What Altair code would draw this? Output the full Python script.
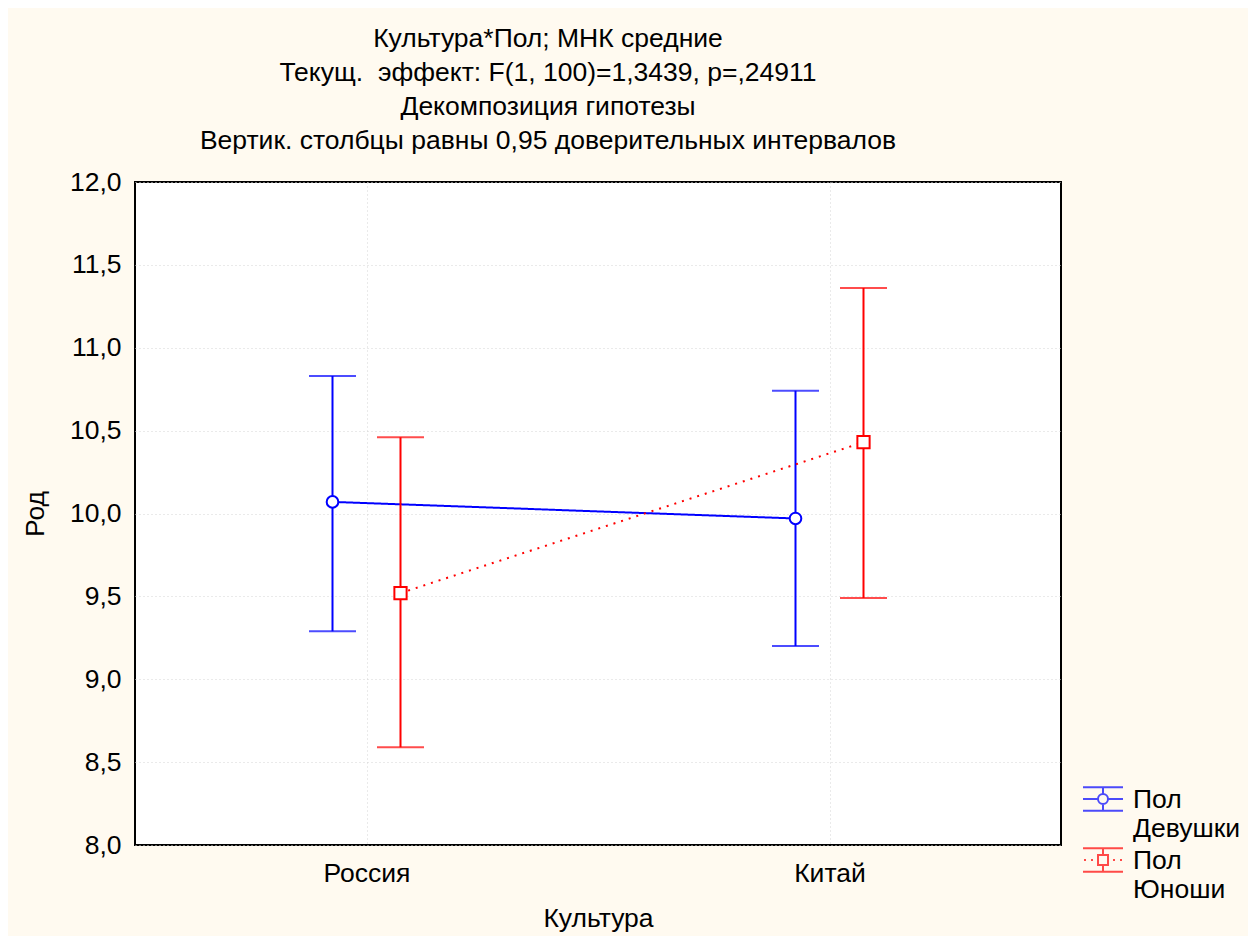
import altair as alt
import pandas as pd

categories = ["Россия", "Китай"]
groups = ["Девушки", "Юноши"]
girls_mean = [10.07, 9.97]
girls_low = [9.29, 9.20]
girls_high = [10.83, 10.74]
boys_mean = [9.52, 10.43]
boys_low = [8.59, 9.49]
boys_high = [10.46, 11.36]
y_ticks = [8.0, 8.5, 9.0, 9.5, 10.0, 10.5, 11.0, 11.5, 12.0]
title_lines = [
    "Культура*Пол; МНК средние",
    "Текущ.\u00a0 эффект: F(1, 100)=1,3439, p=,24911",
    "Декомпозиция гипотезы",
    "Вертик. столбцы равны 0,95 доверительных интервалов",
]

rows = []
for g, means, lows, highs in [(groups[0], girls_mean, girls_low, girls_high),
                              (groups[1], boys_mean, boys_low, boys_high)]:
    for c, m, lo, hi in zip(categories, means, lows, highs):
        rows.append({"culture": c, "group": g, "mean": m, "low": lo, "high": hi})
df = pd.DataFrame(rows)

FONT = "Liberation Sans"
FS = 26.5
BLUE = "#0000FF"
RED = "#FF0000"
colors = {groups[0]: BLUE, groups[1]: RED}

x_axis = alt.Axis(title="Культура", labelAngle=0, labelPadding=15, titlePadding=19,
                  grid=True)
y_axis = alt.Axis(title="Род", values=y_ticks, labelPadding=14, titlePadding=20, grid=True,
                  labelExpr="replace(format(datum.value, '.1f'), '.', ',')")
y_scale = alt.Scale(domain=[8, 12], nice=False, zero=False)


def X():
    return alt.X("culture:N", sort=categories, scale=alt.Scale(type="point", padding=0.5), axis=x_axis)


def XO():
    return alt.XOffset("group:N", sort=groups,
                       scale=alt.Scale(type="point", domain=groups, range=[-34, 34], padding=0))


def Y(field):
    return alt.Y(f"{field}:Q", scale=y_scale, axis=y_axis, title="Род")


layers = []
point_shapes = {groups[0]: ("circle", 135), groups[1]: ("square", 150)}
dashes = {groups[0]: [1, 0], groups[1]: [2, 6]}
for g in groups:
    c = colors[g]
    base = alt.Chart(df).transform_filter(alt.datum.group == g)
    layers.append(base.mark_rule(color=c, strokeWidth=2).encode(x=X(), xOffset=XO(), y=Y("low"), y2="high:Q"))
    layers.append(base.mark_tick(color=c, size=47, thickness=2).encode(x=X(), xOffset=XO(), y=Y("low")))
    layers.append(base.mark_tick(color=c, size=47, thickness=2).encode(x=X(), xOffset=XO(), y=Y("high")))
    layers.append(base.mark_line(color=c, strokeWidth=2, strokeDash=dashes[g]).encode(
        x=X(), xOffset=XO(), y=Y("mean")))

for g in groups:
    c = colors[g]
    shp, sz = point_shapes[g]
    base = alt.Chart(df).transform_filter(alt.datum.group == g)
    layers.append(base.mark_point(shape=shp, size=sz, filled=True, fill="white", stroke=c,
                                  strokeWidth=2, opacity=1).encode(x=X(), xOffset=XO(), y=Y("mean")))


def glyph(kind, dy):
    t, cc, b = -0.59 + dy, dy, 0.59 + dy
    p = f"M-1,{t}H1M-1,{b}H1M0,{t}V{cc-0.25}M0,{cc+0.25}V{b}"
    if kind == "circle":
        p += f"M-1,{cc}H-0.25M0.25,{cc}H1"
        p += f"M0.25,{cc}A0.25,0.25 0 1,1 -0.25,{cc}A0.25,0.25 0 1,1 0.25,{cc}"
    else:
        p += f"M-0.95,{cc}H-0.85M-0.6,{cc}H-0.5M0.5,{cc}H0.6M0.85,{cc}H0.95"
        p += f"M-0.25,{cc-0.25}H0.25V{cc+0.25}H-0.25Z"
    return p


legend = alt.Legend(title=None, orient="none", legendX=947, legendY=605,
                    symbolSize=1600, symbolStrokeWidth=2, symbolFillColor="transparent",
                    labelFont=FONT, labelFontSize=FS, labelColor="black",
                    labelExpr="['Пол', datum.label]", labelOffset=9,
                    labelBaseline="alphabetic", labelLimit=300, rowPadding=2, padding=0)

legend_layer = alt.Chart(df).transform_filter("false").mark_point(filled=False, strokeWidth=2).encode(
    x=X(), xOffset=XO(), y=Y("mean"),
    color=alt.Color("group:N", scale=alt.Scale(domain=groups, range=[BLUE, RED]), legend=legend),
    shape=alt.Shape("group:N", scale=alt.Scale(domain=groups, range=[glyph("circle", -0.45), glyph("square", -0.45)]),
                    legend=legend),
)
layers.append(legend_layer)

chart = alt.layer(*layers).properties(
    width=926, height=663,
    title=alt.Title(text=title_lines, font=FONT, fontSize=FS, fontWeight="normal", color="black",
                    anchor="middle", dx=-50, offset=14, lineHeight=34.3),
    background="#FFFAF0",
    padding={"left": 127, "top": 174, "right": 187, "bottom": 91},
    autosize=alt.AutoSizeParams(type="none"),
).configure_view(
    stroke="black", strokeWidth=2, fill="white"
).configure_axis(
    labelFont=FONT, titleFont=FONT, labelFontSize=FS, titleFontSize=FS, titleFontWeight="normal",
    labelColor="black", titleColor="black", domain=False, ticks=False,
    gridColor="#d4d4d4", gridDash=[1, 3], gridWidth=1,
)

chart.save("out.html", embed_options={"renderer": "svg", "actions": False})
